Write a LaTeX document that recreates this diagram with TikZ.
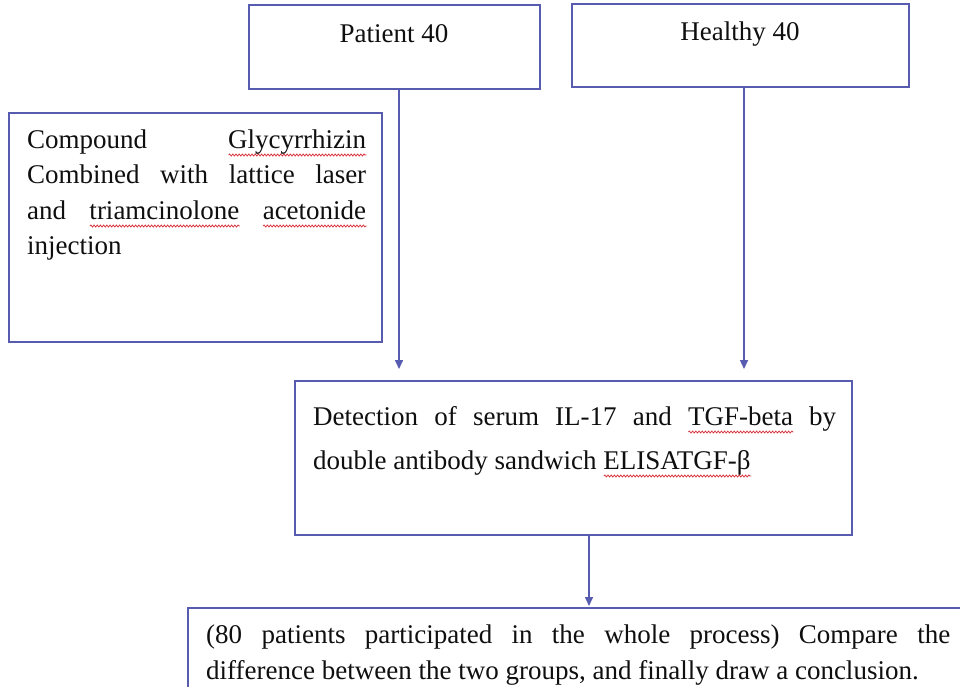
\documentclass[tikz,border=0pt]{standalone}
\usepackage{fontspec}
\setmainfont{Liberation Serif}
\usetikzlibrary{arrows.meta,decorations.pathmorphing}
\definecolor{boxblue}{RGB}{88,92,176}
\definecolor{ink}{RGB}{15,15,15}
\definecolor{wavered}{RGB}{215,50,60}
\newlength\wavelen
\newcommand\redwave[1]{\settowidth\wavelen{#1}\rlap{\raisebox{-7pt}[0pt][0pt]{\tikz[x=1pt,y=1pt,baseline=0pt]\draw[wavered,line width=0.75pt,decorate,decoration={snake,amplitude=1pt,segment length=3.2pt}] (0,0) -- (\wavelen,0);}}#1}
\begin{document}
\begin{tikzpicture}[x=1pt,y=-1pt,
  box/.style={draw=boxblue, line width=1.8pt, inner sep=0pt},
  arr/.style={draw=boxblue, line width=1.5pt, -{Triangle[length=9pt,width=8pt]}},
  txt/.style={inner sep=0pt, text=ink, font=\fontsize{27}{35.5}\selectfont}]
\useasboundingbox (0,0) rectangle (960,686);
\fill[white] (0,0) rectangle (960,686);

% boxes
\node[box, minimum width=291pt, minimum height=84pt] (patient) at (394.5,47) {};
\node[box, minimum width=337pt, minimum height=83pt] (healthy) at (740.5,45.5) {};
\node[box, minimum width=373pt, minimum height=229pt] (comp) at (195.5,227.5) {};
\node[box, minimum width=557pt, minimum height=154pt] (detect) at (573.5,458) {};
\node[box, minimum width=792pt, minimum height=102pt] (final) at (584,659) {};

% texts
\node[txt, anchor=base] (plbl) at (394,42) {Patient 40};
\node[txt, anchor=base] (hlbl) at (740,40) {Healthy 40};

\node[txt, anchor=base west] (ctext) at (27,148) {\parbox[t]{339pt}{\fontsize{27}{35.5}\selectfont
  \makebox[339pt][s]{Compound \redwave{Glycyrrhizin}}\\
  \makebox[339pt][s]{Combined with lattice laser}\\
  \makebox[339pt][s]{and \redwave{triamcinolone} \redwave{acetonide}}\\
  injection}};

\node[txt, anchor=base west] (dtext) at (313,425) {\parbox[t]{523pt}{\fontsize{27}{44}\selectfont
  \makebox[523pt][s]{Detection of serum IL-17 and \redwave{TGF-beta} by}\\
  double antibody sandwich \redwave{ELISATGF-β}}};

\node[txt, anchor=base west] (ftext) at (206,643) {\parbox[t]{744pt}{\fontsize{27}{36}\selectfont
  \makebox[744pt][s]{(80 patients participated in the whole process) Compare the}\\
  difference between the two groups, and finally draw a conclusion.}};

% connectors
\coordinate (pa) at (399,369);
\coordinate (ha) at (744,369);
\coordinate (da) at (589,606);
\draw[arr] (patient.south -| pa) -- (pa);
\draw[arr] (healthy.south -| ha) -- (ha);
\draw[arr] (detect.south -| da) -- (da);
\end{tikzpicture}
\end{document}
